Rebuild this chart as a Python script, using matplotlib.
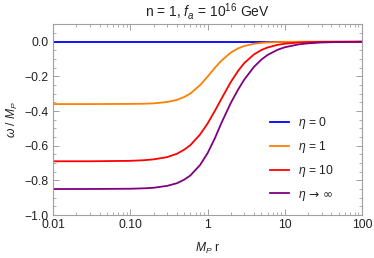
import matplotlib
matplotlib.use("Agg")
import matplotlib.pyplot as plt
from matplotlib.ticker import FixedLocator, FixedFormatter, LogLocator, NullFormatter, MultipleLocator

plt.rcParams['font.family'] = ['Liberation Sans', 'DejaVu Sans']
plt.rcParams['mathtext.fontset'] = 'custom'
plt.rcParams['mathtext.rm'] = 'Liberation Sans'
plt.rcParams['mathtext.it'] = 'Liberation Sans:italic'
plt.rcParams['mathtext.sf'] = 'Liberation Sans'

# data
r = [0.01, 0.03, 0.1, 0.15, 0.2, 0.3, 0.4, 0.5, 0.6, 0.8, 1.0, 1.25, 1.5, 2, 2.5,
     3, 4, 5, 6, 8, 10, 15, 20, 30, 50, 100]
eta0 = [0.0] * len(r)
eta1 = [-0.360, -0.360, -0.359, -0.358, -0.356, -0.348, -0.336, -0.319, -0.299, -0.251,
        -0.202, -0.150, -0.111, -0.0628, -0.0381, -0.0247, -0.0121, -0.0069, -0.0043,
        -0.0021, -0.0012, -0.0004, -0.0001, 0.0, 0.0, 0.0]
eta10 = [-0.690, -0.690, -0.6875, -0.684, -0.679, -0.666, -0.647, -0.623, -0.597, -0.536,
         -0.473, -0.398, -0.333, -0.233, -0.167, -0.123, -0.0732, -0.0477, -0.0333,
         -0.0186, -0.0118, -0.0051, -0.0028, -0.0012, -0.0004, 0.0]
etainf = [-0.850, -0.8499, -0.8485, -0.846, -0.843, -0.832, -0.817, -0.796, -0.772, -0.712,
          -0.644, -0.556, -0.473, -0.354, -0.275, -0.218, -0.145, -0.1027, -0.0766,
          -0.0474, -0.0323, -0.0159, -0.0095, -0.0046, -0.0018, -0.0006]
labels = [r'$\eta$ = 0', r'$\eta$ = 1', r'$\eta$ = 10', '$\\eta$ \u2192 \u221e']
colors = ['#0000ff', '#ff8000', '#ff0000', '#800080']

xticks = [0.01, 0.1, 1, 10, 100]
xticklabels = ['0.01', '0.10', '1', '10', '100']
yticks = [-1.0, -0.8, -0.6, -0.4, -0.2, 0.0]
yticklabels = ['\u22121.0', '\u22120.8', '\u22120.6', '\u22120.4', '\u22120.2', '0.0']

fig = plt.figure(figsize=(3.74, 2.58), dpi=100)
ax = fig.add_axes([53/374, 1 - 215/258, (362-53)/374, (215-24)/258])

for ys, lab, c in zip([eta0, eta1, eta10, etainf], labels, colors):
    ax.plot(r, ys, color=c, lw=1.3, label=lab)

ax.set_xscale('log')
ax.set_xlim(0.01, 100)
ax.set_ylim(-1.0, 0.102)

ax.xaxis.set_major_locator(FixedLocator(xticks))
ax.xaxis.set_major_formatter(FixedFormatter(xticklabels))
ax.xaxis.set_minor_locator(LogLocator(base=10, subs=range(2, 10), numticks=20))
ax.xaxis.set_minor_formatter(NullFormatter())
ax.yaxis.set_major_locator(FixedLocator(yticks))
ax.yaxis.set_major_formatter(FixedFormatter(yticklabels))
ax.yaxis.set_minor_locator(MultipleLocator(0.05))

frame_c = '#a0a0a0'
for s in ax.spines.values():
    s.set_color(frame_c)
    s.set_linewidth(0.8)
ax.tick_params(which='both', direction='in', top=True, right=True, color=frame_c,
               labelsize=8.7, labelcolor='#222222')
ax.tick_params(axis='x', pad=3)
ax.tick_params(axis='y', pad=3.5)
ax.tick_params(which='major', length=4, width=0.7)
ax.tick_params(which='minor', length=2, width=0.6)

ax.set_xlabel(r'$M_P$ r', fontsize=8.7, color='#222222', labelpad=7)
ax.set_ylabel(r'$\omega$ / $M_P$', fontsize=8.7, color='#222222', labelpad=3)
ax.set_title(r'n = 1, $f_a$ = 10$^{16}$ GeV', fontsize=10, color='#222222', pad=5)

leg = ax.legend(loc='upper left', bbox_to_anchor=((270-53)/309, (215-115)/191),
                frameon=False, borderpad=0, borderaxespad=0,
                fontsize=8.7, handlelength=1.6, handletextpad=0.75, labelspacing=0.68)
for t in leg.get_texts():
    t.set_color('#222222')
leg.get_texts()[3].set_fontfamily(['DejaVu Sans'])

fig.savefig('out.png', dpi=100)
